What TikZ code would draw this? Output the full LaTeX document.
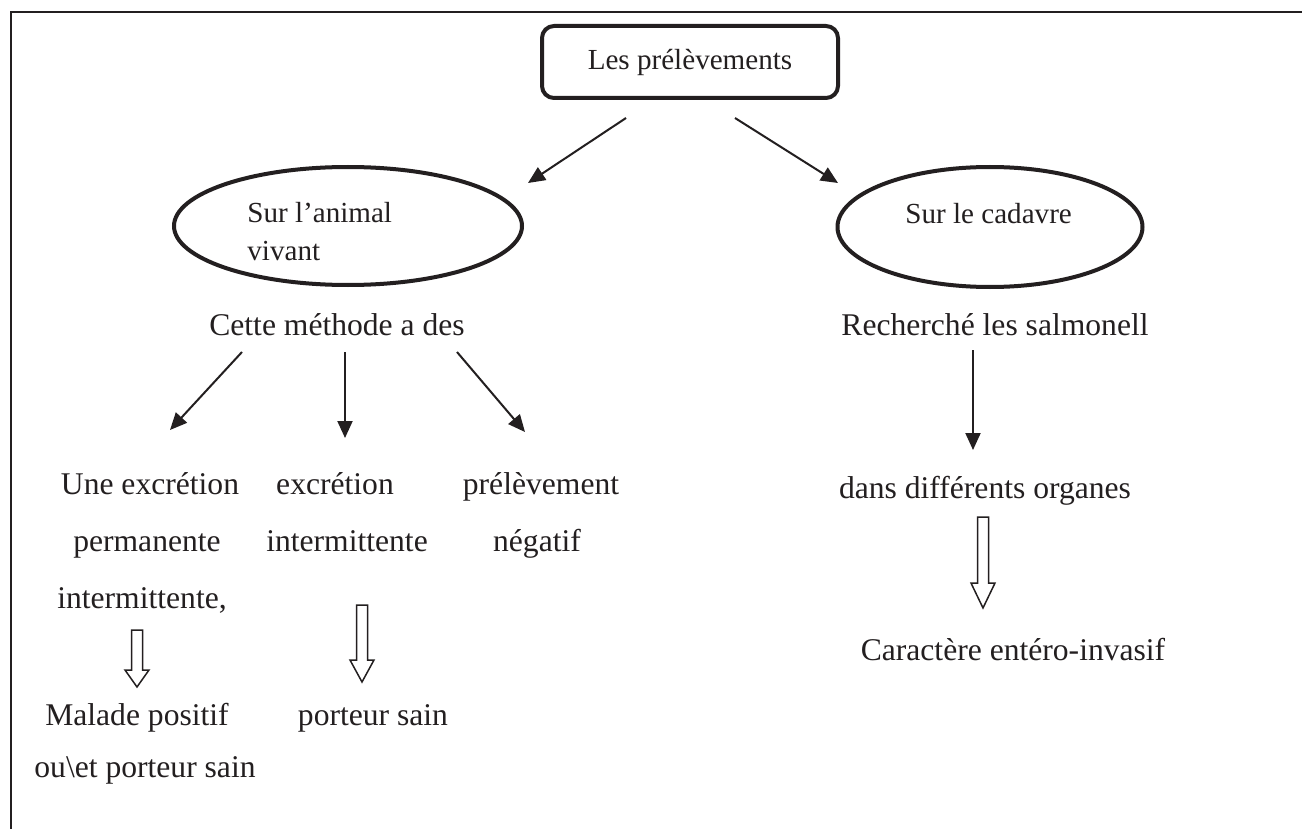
\documentclass[tikz,border=0pt]{standalone}
\usepackage{fontspec}
\setmainfont{Liberation Serif}
\usetikzlibrary{arrows.meta,shapes.geometric}
\definecolor{ink}{HTML}{231F20}
\newcommand\hollowarr[4]{% x, ytop, yneck, ytip
  \draw[hollowline] (#1-5.5,#2) -- (#1+5.5,#2) -- (#1+5.5,#3) -- (#1+12,#3)
    -- (#1,#4) -- (#1-12,#3) -- (#1-5.5,#3) -- cycle;}
\begin{document}
\begin{tikzpicture}[x=0.5pt,y=-0.5pt,
  frameline/.style={draw=ink,line width=1.2pt},
  rootbox/.style={draw=ink,line width=2pt,rounded corners=6pt,minimum width=148pt,
    minimum height=36pt,inner sep=0pt,text=ink,font=\fontsize{14.55}{17}\selectfont},
  oval/.style={ellipse,draw=ink,line width=2pt,inner sep=0pt},
  boxtext/.style={inner sep=0pt,text=ink,font=\fontsize{14.55}{17}\selectfont},
  plaintext/.style={inner sep=0pt,anchor=base,text=ink,font=\fontsize{15.8}{19}\selectfont},
  link/.style={draw=ink,line width=1pt,-{Triangle[length=8.5pt,width=7.5pt]}},
  hollowline/.style={draw=ink,line width=0.75pt,fill=white}]
\useasboundingbox (0,0) rectangle (1302,829);
\fill[white] (0,0) rectangle (1302,829);
% frame
\draw[frameline] (11,829) -- (11,12) -- (1302,12);
% root
\node[rootbox] (root) at (690,62) {Les prélèvements};
% ellipses
\node[oval,minimum width=174pt,minimum height=59pt] (live) at (348,226) {};
\node[oval,minimum width=152.5pt,minimum height=60pt] (dead) at (990,227) {};
\node[boxtext,anchor=base west] (liveA) at (247,222) {Sur l’animal};
\node[boxtext,anchor=base west] (liveB) at (247,260) {vivant};
\node[boxtext,anchor=base west] (deadA) at (905,223) {Sur le cadavre};
% second level texts
\node[plaintext] (meth) at (337,335) {Cette méthode a des};
\node[plaintext] (rech) at (995,335) {Recherché les salmonell};
% left branch
\node[plaintext] (c1a) at (150,494) {Une excrétion};
\node[plaintext] (c1b) at (147,551) {permanente};
\node[plaintext] (c1c) at (142,608) {intermittente,};
\node[plaintext] (c2a) at (335,494) {excrétion};
\node[plaintext] (c2b) at (347,551) {intermittente};
\node[plaintext] (c3a) at (541,494) {prélèvement};
\node[plaintext] (c3b) at (537,551) {négatif};
\node[plaintext] (mal) at (137,725) {Malade positif};
\node[plaintext] (ouet) at (145,777) {ou\textbackslash et porteur sain};
\node[plaintext] (port) at (373,725) {porteur sain};
% right branch
\node[plaintext] (dans) at (985,498) {dans différents organes};
\node[plaintext] (car) at (1013,660) {Caractère entéro-invasif};
% connector ends
\coordinate (a1s) at (626,118); \coordinate (a1e) at (528,183);
\coordinate (a2s) at (735,118); \coordinate (a2e) at (838,183);
\coordinate (b1s) at (242,352); \coordinate (b1e) at (170,430);
\coordinate (b2s) at (345,352); \coordinate (b2e) at (345,438);
\coordinate (b3s) at (457,352); \coordinate (b3e) at (525,432);
\coordinate (r1s) at (973,350); \coordinate (r1e) at (973,450);
\draw[link] (a1s) -- (a1e);
\draw[link] (a2s) -- (a2e);
\draw[link] (b1s) -- (b1e);
\draw[link] (b2s) -- (b2e);
\draw[link] (b3s) -- (b3e);
\draw[link] (r1s) -- (r1e);
% hollow arrows
\hollowarr{137}{630}{670}{687}
\hollowarr{362}{605}{660}{682}
\hollowarr{983}{517}{583}{608}
\end{tikzpicture}
\end{document}
